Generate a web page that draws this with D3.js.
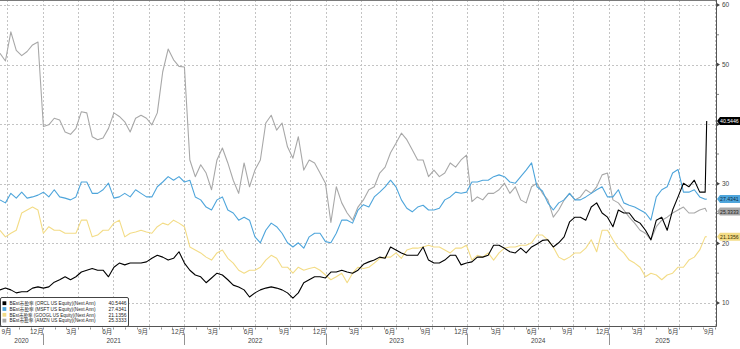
<!DOCTYPE html>
<html>
<head>
<meta charset="utf-8">
<script src="https://cdn.jsdelivr.net/npm/d3@7"></script>
<style>
  html, body { margin: 0; padding: 0; background: #fff; }
  svg { display: block; }
  text { font-family: "Liberation Sans", Arial, "Noto Sans CJK SC", sans-serif; }
</style>
</head>
<body>
<svg id="chart" width="740" height="349"></svg>
<script>
// ---- data: BEst P/E (next announcement), sampled every two weeks ----
const startDate = new Date(2020, 8, 12);
const stepDays = 14;
const lastDate = new Date(2025, 8, 10);

const tickers = ["ORCL", "MSFT", "GOOGL", "AMZN"];
const lastValues = [40.5446, 27.4341, 21.1356, 25.3333];
const seriesColors = ["#000000", "#4ea5db", "#f3dc86", "#a8a8a8"];
const tagText = ["#ffffff", "#0c2a44", "#3a3000", "#222222"];

const orcl = [12.2,12.5,12.2,11.7,11.9,11.9,12.5,12.7,12.5,12.7,13.5,13.9,14.4,13.9,14.4,15.2,15.5,15.8,15.5,15.5,
  14.4,16.0,16.7,16.4,16.7,16.7,16.7,16.9,17.5,18.0,17.7,17.2,17.5,18.6,16.7,15.5,14.7,14.4,13.4,14.2,
  15.0,14.7,13.9,13.0,12.7,12.2,11.0,11.7,12.2,12.5,12.7,12.5,12.2,11.7,10.8,11.7,13.4,13.9,14.4,14.4,
  14.2,15.2,15.2,15.5,15.2,15.0,15.5,16.5,16.9,17.2,17.7,17.5,19.4,18.9,18.4,18.0,18.0,18.0,19.4,17.2,
  16.7,16.7,17.2,18.0,18.0,16.4,16.7,16.9,17.7,17.7,18.0,19.7,19.7,19.2,18.6,18.4,19.2,18.4,19.4,19.9,
  20.5,20.6,19.4,20.1,21.1,23.6,24.4,24.4,23.9,26.1,26.8,25.1,24.4,22.8,25.6,25.1,25.1,23.9,23.4,22.2,
  20.6,23.9,24.4,22.2,25.6,27.8,30.1,29.5,30.6,28.6,28.6];

const msft = [27.3,26.8,28.4,27.6,28.6,27.6,27.8,28.1,28.6,27.8,29.0,27.8,27.6,27.3,27.8,30.3,30.3,28.4,28.4,29.0,
  30.1,27.6,27.8,28.4,27.8,29.0,28.4,27.8,27.8,29.5,30.3,31.2,30.6,31.2,30.3,30.6,27.8,27.3,26.1,25.6,
  27.3,27.8,25.6,25.1,23.9,24.4,23.9,21.1,20.1,22.2,23.4,22.8,21.7,20.1,19.4,20.1,19.2,21.1,21.7,21.7,
  20.3,20.1,21.7,23.9,23.9,23.4,25.6,26.5,26.1,27.8,28.6,29.5,30.6,29.5,27.3,25.9,25.3,26.1,26.4,25.6,
  25.6,25.9,27.3,27.8,28.6,28.4,28.6,30.3,30.3,30.6,30.6,31.2,31.5,31.2,30.3,30.1,31.2,32.3,33.5,29.5,
  28.8,26.8,25.6,26.8,27.3,28.4,27.3,27.3,27.8,28.4,29.0,29.5,27.8,27.8,29.0,26.8,26.4,26.1,25.6,25.1,
  23.9,27.8,29.0,29.5,31.8,32.4,28.6,28.6,29.0,27.8,27.4];

const googl = [22.2,21.1,21.7,22.2,25.1,25.6,26.1,25.6,21.7,22.8,22.2,22.2,21.7,21.7,21.7,23.9,23.9,21.1,21.4,22.2,
  22.2,23.4,23.9,21.1,21.7,21.9,22.2,21.9,21.7,22.8,23.4,23.1,23.9,23.4,22.8,19.4,18.9,18.4,17.7,17.2,
  18.4,18.9,17.5,16.7,15.5,15.0,15.5,15.5,16.0,17.2,18.0,17.5,16.0,16.0,15.0,16.0,15.5,15.8,16.0,15.5,
  14.7,13.9,14.4,15.0,13.4,15.0,16.0,15.8,16.0,16.7,17.5,17.7,17.7,18.4,17.5,18.9,19.2,19.2,19.4,19.7,
  19.4,19.4,18.9,18.4,19.2,19.2,19.7,17.2,18.0,17.7,18.4,17.2,18.4,19.2,19.4,19.4,19.7,19.7,20.1,21.4,
  21.4,20.6,19.4,17.7,17.2,17.7,18.4,18.4,19.2,20.6,18.6,22.2,22.2,20.6,19.2,18.4,17.2,16.7,16.0,14.4,
  15.0,14.7,13.9,14.7,15.0,16.0,16.0,17.2,17.7,18.9,21.1];

const amzn = [51.9,50.6,55.5,52.4,51.5,52.2,53.3,53.8,39.6,39.9,41.0,40.7,38.7,38.3,39.3,42.1,41.9,37.9,37.4,37.7,
  39.3,41.9,41.3,40.4,38.7,41.0,41.5,41.0,39.9,41.9,48.8,52.6,50.8,49.7,49.6,34.0,31.2,33.2,31.8,29.0,
  34.0,36.0,33.5,30.6,28.4,33.5,29.5,32.3,34.0,40.2,41.5,39.0,40.2,36.2,34.3,37.9,32.3,34.0,33.5,31.8,
  30.1,23.5,29.5,26.8,25.1,23.9,26.1,27.3,29.0,29.5,31.8,32.8,35.2,36.8,38.5,37.4,35.7,34.0,34.0,31.2,
  32.3,31.2,31.8,33.5,32.8,34.0,34.8,27.0,27.8,27.3,28.4,28.4,29.0,30.1,28.4,29.5,27.3,26.8,29.5,30.1,
  28.4,27.3,24.4,25.6,27.3,28.4,27.3,27.8,29.0,28.4,29.5,31.5,31.8,27.3,26.8,25.6,24.4,23.4,22.2,21.7,
  20.6,22.8,23.9,24.4,25.1,25.6,26.1,25.1,25.1,25.6,25.9];

const seriesValues = [orcl, msft, googl, amzn];
const yTickValues = [10, 20, 30, 40, 50, 60];
const yMinorTicks = [15, 25, 35, 45, 55];
const labelMonths = [2, 5, 8, 11];          // 3月, 6月, 9月, 12月
const years = [2020, 2021, 2022, 2023, 2024, 2025];

// ---- layout ----
const W = 740, H = 349;
const plotRight = 716, plotBottom = 326.5, plotTop = 0;

const x = d3.scaleTime()
  .domain([new Date(2020, 8, 12), new Date(2025, 9, 4)])
  .range([0, plotRight]);
const y = d3.scaleLinear()
  .domain([10 - (plotBottom - 303) / 5.96, 10 + 303 / 5.96])
  .range([plotBottom, plotTop]);

const svg = d3.select("#chart");

// sampling dates shared by all series
const dates = orcl.map((_, i) => d3.timeDay.offset(startDate, i * stepDays));
const rows = tickers.map((t, k) => {
  const pts = seriesValues[k].map((v, i) => ({ date: dates[i], value: v }));
  pts.push({ date: lastDate, value: lastValues[k] });
  return pts;
});

// ---- gridlines ----
const grid = svg.append("g").attr("stroke", "#c4c4c4").attr("stroke-width", 1)
  .attr("stroke-dasharray", "2,2");
grid.selectAll("line.h").data(yTickValues).join("line")
  .attr("x1", 0).attr("x2", plotRight)
  .attr("y1", d => Math.round(y(d)) + 0.5).attr("y2", d => Math.round(y(d)) + 0.5);
const quarterLines = d3.timeMonth.range(new Date(2020, 9, 1), new Date(2025, 9, 2), 3);
grid.selectAll("line.v").data(quarterLines).join("line")
  .attr("y1", plotTop).attr("y2", plotBottom)
  .attr("x1", d => Math.round(x(d)) + 0.5).attr("x2", d => Math.round(x(d)) + 0.5);

// ---- frame / axes ----
svg.append("line").attr("x1", 0).attr("x2", plotRight + 0.5).attr("y1", 0.5).attr("y2", 0.5)
  .attr("stroke", "#7a7a7a").attr("stroke-width", 1);
svg.append("line").attr("x1", 0).attr("x2", plotRight + 0.5)
  .attr("y1", plotBottom).attr("y2", plotBottom)
  .attr("stroke", "#555").attr("stroke-width", 1);
svg.append("line").attr("x1", plotRight + 0.5).attr("x2", plotRight + 0.5)
  .attr("y1", 0).attr("y2", plotBottom)
  .attr("stroke", "#555").attr("stroke-width", 1);

// right y axis: small arrow ticks + labels (labels under a value tag are left out)
const tagYs = lastValues.map(v => y(v));
const freeTicks = yTickValues.filter(d => tagYs.every(t => Math.abs(t - y(d)) > 6));
const yAxis = svg.append("g");
yAxis.selectAll("path.tk").data(yTickValues).join("path")
  .attr("d", d => { const yy = y(d); return `M${plotRight + 1},${yy - 1.8}L${plotRight + 4},${yy}L${plotRight + 1},${yy + 1.8}Z`; })
  .attr("fill", "#444");
yAxis.selectAll("line.mn").data(yMinorTicks).join("line")
  .attr("x1", plotRight + 1).attr("x2", plotRight + 3)
  .attr("y1", d => y(d)).attr("y2", d => y(d))
  .attr("stroke", "#666").attr("stroke-width", 0.8);
yAxis.selectAll("text").data(freeTicks).join("text")
  .attr("x", plotRight + 6).attr("y", d => y(d) + 2.3)
  .attr("font-size", 6.5).attr("fill", "#444")
  .text(d => d);

// bottom x axis: month ticks, quarter labels, year bands
const xAxis = svg.append("g");
const monthTicks = d3.timeMonth.range(new Date(2020, 9, 1), new Date(2025, 9, 2));
xAxis.selectAll("line.m").data(monthTicks).join("line")
  .attr("x1", d => Math.round(x(d)) + 0.5).attr("x2", d => Math.round(x(d)) + 0.5)
  .attr("y1", plotBottom + 1).attr("y2", plotBottom + 3)
  .attr("stroke", "#777").attr("stroke-width", 0.8);

const monthLabels = [];
years.forEach(yr => labelMonths.forEach(m => {
  const d = new Date(yr, m, 16);
  if (d >= new Date(2020, 8, 1) && d <= new Date(2025, 8, 30)) monthLabels.push(d);
}));
xAxis.selectAll("text.m").data(monthLabels).join("text")
  .attr("x", d => Math.max(6.5, x(d)))
  .attr("y", 333.5)
  .attr("text-anchor", "middle")
  .attr("font-size", 6.5).attr("fill", "#444")
  .text(d => (d.getMonth() + 1) + "月");

const yearStarts = years.slice(1).map(yr => new Date(yr, 0, 1));
xAxis.selectAll("line.y").data(yearStarts).join("line")
  .attr("x1", d => Math.round(x(d)) + 0.5).attr("x2", d => Math.round(x(d)) + 0.5)
  .attr("y1", 333.5).attr("y2", 345)
  .attr("stroke", "#777").attr("stroke-width", 0.8);
xAxis.selectAll("text.y").data(years).join("text")
  .attr("x", yr => {
    const a = Math.max(0, x(new Date(yr, 0, 1)));
    const b = Math.min(plotRight, x(new Date(yr + 1, 0, 1)));
    return (a + b) / 2;
  })
  .attr("y", 342.5)
  .attr("text-anchor", "middle")
  .attr("font-size", 6.5).attr("fill", "#444")
  .text(yr => yr);

// ---- series lines ----
svg.append("clipPath").attr("id", "plotClip")
  .append("rect").attr("x", 0).attr("y", 0).attr("width", plotRight).attr("height", plotBottom);
const line = d3.line().x(d => x(d.date)).y(d => y(d.value));
const drawOrder = [3, 2, 1, 0];
svg.append("g").attr("clip-path", "url(#plotClip)")
  .selectAll("path").data(drawOrder).join("path")
  .attr("d", k => line(rows[k]))
  .attr("fill", "none")
  .attr("stroke", k => seriesColors[k])
  .attr("stroke-width", 1.1)
  .attr("stroke-linejoin", "round");

// ---- last-value tags on the right axis ----
const tags = svg.append("g");
[0, 1, 3, 2].forEach(k => {
  const yy = y(lastValues[k]);
  tags.append("path")
    .attr("d", `M${plotRight + 1},${yy}L${plotRight + 4},${yy - 4}L${W},${yy - 4}L${W},${yy + 4}L${plotRight + 4},${yy + 4}Z`)
    .attr("fill", seriesColors[k]);
  tags.append("text")
    .attr("x", plotRight + 4).attr("y", yy + 2)
    .attr("font-size", 5.2).attr("fill", tagText[k])
    .text(lastValues[k].toFixed(4));
});

// ---- legend ----
const legend = svg.append("g");
legend.append("rect")
  .attr("x", 0.5).attr("y", 297.5).attr("width", 128).attr("height", 29)
  .attr("rx", 1.5)
  .attr("fill", "#fff").attr("stroke", "#444").attr("stroke-width", 1);
tickers.forEach((t, k) => {
  const cy = 303.2 + k * 5.8;
  legend.append("rect")
    .attr("x", 2.5).attr("y", cy - 1.9).attr("width", 3.8).attr("height", 3.8)
    .attr("fill", seriesColors[k]);
  legend.append("text")
    .attr("x", 9.5).attr("y", cy + 1.8)
    .attr("font-size", 5).attr("fill", "#222")
    .attr("textLength", 86).attr("lengthAdjust", "spacingAndGlyphs")
    .text(`BEst市盈率 (${t} US Equity)(Next Ann)`);
  legend.append("text")
    .attr("x", 126.5).attr("y", cy + 1.8)
    .attr("text-anchor", "end")
    .attr("font-size", 5).attr("fill", "#222")
    .text(lastValues[k].toFixed(4));
});
</script>
</body>
</html>
